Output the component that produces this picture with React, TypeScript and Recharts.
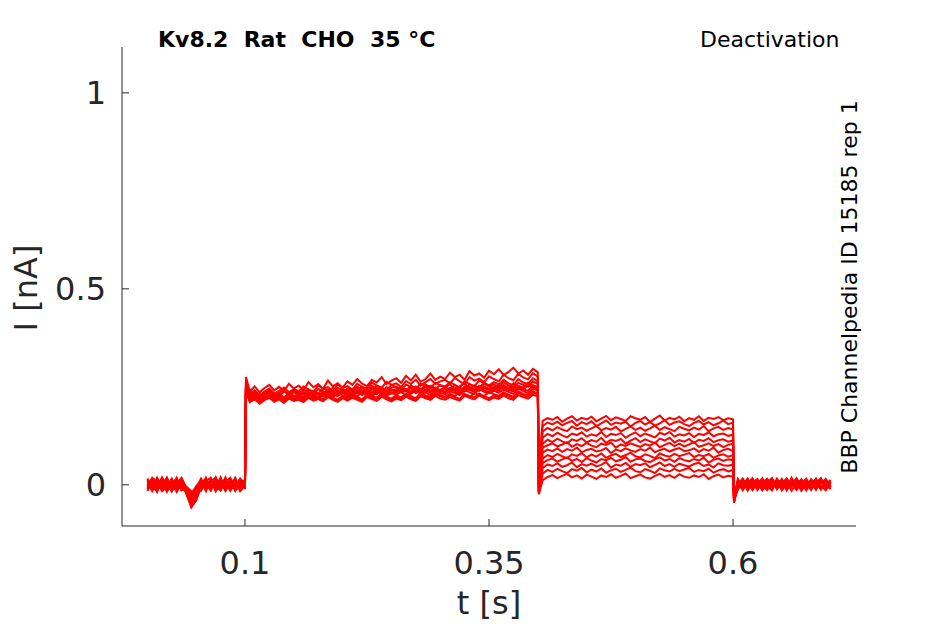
import { LineChart, Line, XAxis, YAxis } from "recharts"

// sample times (ms): holding, activation step, deactivation step, return to holding
const tHold = [0, 5, 10, 15, 20, 25, 30, 35, 40, 45, 50, 55, 60, 65, 70, 75, 80, 85, 90, 95, 100]
const tStep = [
  101,
  105, 110, 115, 120, 125, 130, 135, 140, 145, 150,
  155, 160, 165, 170, 175, 180, 185, 190, 195, 200,
  205, 210, 215, 220, 225, 230, 235, 240, 245, 250,
  255, 260, 265, 270, 275, 280, 285, 290, 295, 300,
  305, 310, 315, 320, 325, 330, 335, 340, 345, 350,
  355, 360, 365, 370, 375, 380, 385, 390, 395, 400,
]
const tTail = [
  401,
  405, 410, 415, 420, 425, 430, 435, 440, 445, 450,
  455, 460, 465, 470, 475, 480, 485, 490, 495, 500,
  505, 510, 515, 520, 525, 530, 535, 540, 545, 550,
  555, 560, 565, 570, 575, 580, 585, 590, 595, 600,
]
const tBack = [601, 605, 610, 615, 620, 625, 630, 635, 640, 645, 650, 655, 660, 665, 670, 675, 680, 685, 690, 695, 700]
const timeMs = [...tHold, ...tStep, ...tTail, ...tBack]

// current traces in pA, one per tail voltage
const trace01 = [
  6, -12, 15, -5, 11, -17, 3, 18, -8, -22, -4, 13, -11, 8, 19, -7, 5, -15, 10, -3, 8,
  275,
  238, 251, 236, 247, 255, 241, 250, 239, 258, 246,
  253, 242, 262, 249, 257, 245, 266, 251, 259, 248,
  264, 255, 270, 258, 252, 268, 261, 275, 257, 266,
  272, 260, 278, 266, 281, 263, 270, 284, 268, 276,
  270, 286, 275, 281, 268, 290, 279, 284, 273, 291,
  282, 295, 280, 288, 299, 284, 292, 281, 296, 287,
  40,
  163, 170, 166, 173, 161, 169, 175, 164, 171, 167,
  174, 162, 169, 176, 165, 172, 168, 163, 175, 170,
  166, 173, 160, 169, 177, 164, 171, 167, 174, 162,
  170, 166, 175, 163, 171, 168, 173, 165, 170, 167,
  -38, 12, -8, 15, -3, 9, -14, 6, 17, -6, 10, -11, 4, 16, -9, 8, -4, 13, -12, 5, 1,
]
const trace02 = [
  -13, 5, -3, 16, -10, 8, -18, 2, -15, -42, -28, 6, 15, -8, 3, -13, 16, -5, 12, -10, 2,
  262,
  232, 241, 229, 238, 246, 233, 240, 248, 236, 244,
  239, 251, 243, 236, 254, 245, 249, 238, 256, 247,
  252, 243, 258, 250, 246, 261, 254, 248, 263, 255,
  259, 250, 265, 257, 268, 253, 262, 270, 258, 264,
  268, 259, 273, 264, 257, 275, 266, 271, 262, 277,
  270, 264, 281, 272, 267, 283, 274, 269, 285, 276,
  30,
  150, 159, 154, 161, 152, 158, 163, 151, 160, 155,
  162, 150, 157, 164, 153, 159, 156, 161, 149, 158,
  163, 154, 160, 151, 157, 165, 153, 159, 162, 155,
  150, 158, 163, 154, 160, 152, 157, 164, 155, 159,
  -42, -6, 14, -10, 8, -2, 16, -13, 5, 11, -7, 15, -4, 9, -15, 3, 12, -8, 6, -3, 10,
]
const trace03 = [
  10, -16, 7, -2, 19, -11, 13, -6, -19, -32, -13, -5, 10, 18, -14, 7, -3, 13, -16, 5, -6,
  258,
  226, 236, 231, 222, 239, 229, 235, 241, 228, 237,
  233, 243, 236, 230, 245, 238, 234, 248, 240, 236,
  246, 239, 251, 242, 237, 253, 245, 249, 240, 255,
  248, 243, 256, 250, 245, 258, 252, 247, 260, 254,
  251, 262, 255, 248, 264, 257, 252, 266, 259, 254,
  262, 256, 268, 259, 254, 270, 261, 257, 272, 264,
  20,
  136, 145, 139, 147, 141, 137, 149, 142, 146, 138,
  144, 150, 139, 145, 141, 148, 136, 143, 149, 140,
  146, 138, 144, 151, 140, 147, 142, 137, 148, 143,
  139, 146, 141, 150, 137, 144, 148, 140, 145, 142,
  -30, 8, -12, 4, 17, -7, 11, -3, -14, 9, 2, -9, 18, -5, 7, -12, 14, 1, -10, 13, -6,
]
const trace04 = [
  -5, 13, -15, 8, -3, 16, -10, 11, -24, -58, -38, -3, 5, -13, 15, -2, -11, 8, -6, 16, 3,
  250,
  229, 237, 225, 234, 241, 231, 226, 238, 233, 242,
  236, 230, 244, 238, 233, 246, 240, 235, 248, 241,
  237, 245, 241, 250, 236, 243, 252, 246, 239, 248,
  251, 244, 240, 253, 247, 242, 256, 249, 245, 254,
  248, 257, 243, 251, 259, 246, 253, 248, 261, 252,
  256, 249, 262, 253, 247, 260, 255, 250, 264, 257,
  10,
  120, 130, 124, 133, 126, 121, 131, 127, 134, 123,
  129, 125, 135, 122, 130, 127, 132, 120, 128, 134,
  124, 131, 126, 121, 133, 128, 135, 123, 129, 126,
  132, 122, 130, 127, 134, 124, 129, 131, 125, 128,
  -45, -3, 10, -15, 6, 13, -8, 2, 15, -11, 7, -4, 12, -13, 3, 16, -7, 9, -2, -14, 8,
]
const trace05 = [
  16, -3, 10, -13, 5, -8, 18, -14, -6, -28, -19, 11, -5, 6, -10, 19, -13, 3, 14, -8, -2,
  248,
  221, 230, 218, 227, 233, 224, 229, 220, 235, 226,
  231, 223, 237, 228, 225, 239, 232, 227, 241, 234,
  229, 238, 233, 243, 230, 236, 245, 239, 232, 241,
  244, 236, 240, 247, 234, 242, 249, 238, 245, 240,
  237, 248, 243, 239, 251, 245, 241, 253, 246, 242,
  250, 244, 255, 247, 242, 252, 248, 257, 245, 251,
  2,
  105, 115, 109, 118, 111, 106, 116, 112, 119, 108,
  114, 110, 120, 107, 115, 112, 117, 105, 113, 119,
  109, 116, 111, 106, 118, 113, 120, 108, 114, 110,
  117, 107, 115, 112, 119, 109, 114, 116, 110, 113,
  -35, 15, -5, 9, -12, 3, 16, -9, 7, -2, 13, -14, 5, 10, -6, 12, -11, 4, 17, -8, -1,
]
const trace06 = [
  -8, 15, 2, -11, 16, -5, -13, 10, -16, -38, -10, 16, -6, 13, -3, -15, 8, 18, -10, 3, 11,
  252,
  224, 232, 221, 229, 236, 226, 233, 223, 230, 237,
  228, 234, 225, 238, 231, 227, 240, 233, 229, 236,
  241, 232, 237, 229, 243, 235, 231, 245, 238, 233,
  236, 244, 239, 234, 246, 237, 242, 235, 248, 240,
  236, 245, 240, 233, 247, 242, 238, 249, 241, 237,
  246, 240, 251, 243, 238, 249, 244, 240, 253, 245,
  -4,
  95, 101, 106, 98, 103, 109, 97, 104, 99, 107,
  100, 96, 105, 102, 108, 95, 103, 99, 106, 101,
  97, 104, 100, 108, 96, 102, 107, 99, 105, 98,
  103, 109, 97, 101, 106, 99, 104, 96, 102, 105,
  -40, 5, -14, 12, 1, -9, 8, 14, -5, 10, -12, 6, -3, 15, -10, 2, 9, -13, 11, -4, 7,
]
const trace07 = [
  3, -14, 18, -6, -13, 10, 5, -10, -13, -20, -25, -8, 18, -11, 6, 13, -16, 5, -3, 15, -10,
  246,
  218, 227, 215, 224, 230, 220, 226, 217, 229, 222,
  226, 219, 231, 224, 221, 233, 227, 223, 235, 228,
  224, 232, 226, 236, 229, 225, 238, 231, 227, 234,
  230, 237, 228, 233, 240, 232, 236, 229, 241, 234,
  231, 238, 235, 229, 242, 236, 232, 244, 237, 233,
  240, 235, 243, 237, 232, 245, 239, 234, 246, 240,
  -10,
  82, 90, 86, 93, 84, 91, 87, 95, 83, 89,
  92, 85, 88, 94, 81, 90, 86, 93, 88, 84,
  91, 87, 95, 83, 89, 92, 85, 90, 94, 86,
  88, 93, 84, 91, 87, 95, 82, 89, 92, 86,
  -33, -10, 6, -4, 13, -13, 4, 10, -8, 16, -2, 8, -15, 5, 12, -6, 3, -9, 14, 0, -11,
]
const trace08 = [
  -16, 8, -6, 19, -2, -15, 11, 3, -18, -48, -31, 5, -13, 10, -17, 3, 15, -8, 18, -13, 6,
  244,
  216, 224, 212, 221, 227, 217, 223, 214, 226, 219,
  223, 216, 228, 220, 225, 218, 230, 222, 217, 227,
  221, 229, 224, 218, 231, 226, 222, 233, 225, 220,
  228, 223, 232, 226, 221, 234, 228, 224, 235, 229,
  225, 232, 227, 236, 230, 224, 234, 229, 226, 237,
  231, 227, 236, 230, 225, 238, 232, 228, 239, 233,
  -14,
  67, 76, 71, 79, 73, 68, 78, 74, 81, 70,
  77, 72, 80, 69, 75, 79, 71, 76, 82, 73,
  70, 78, 74, 68, 80, 75, 72, 79, 73, 77,
  81, 71, 76, 73, 79, 69, 75, 78, 72, 76,
  -46, 9, -2, 16, -9, 7, -13, 3, 12, -5, 15, -10, 8, -1, 11, -14, 6, 13, -7, 10, 4,
]
const trace09 = [
  11, -6, -15, 5, 15, -10, -3, 16, -10, -24, -6, -15, 8, -3, 11, -10, 19, -14, 2, 10, -5,
  253,
  223, 231, 219, 228, 235, 225, 232, 221, 234, 227,
  231, 237, 228, 240, 233, 229, 242, 236, 231, 244,
  238, 234, 245, 239, 236, 247, 241, 237, 249, 243,
  240, 248, 244, 238, 251, 245, 241, 253, 246, 242,
  249, 244, 255, 247, 243, 257, 250, 246, 258, 251,
  247, 255, 250, 245, 259, 252, 248, 261, 254, 249,
  -17,
  56, 63, 67, 59, 65, 70, 61, 66, 58, 68,
  62, 57, 66, 63, 69, 60, 64, 71, 59, 65,
  67, 61, 58, 65, 70, 62, 66, 59, 68, 63,
  60, 66, 62, 69, 57, 64, 67, 61, 65, 63,
  -28, -7, 13, -11, 5, 15, -4, -12, 9, 3, -8, 12, -6, 17, -3, 7, -10, 2, 15, -9, 6,
]
const trace10 = [
  -3, 18, 8, -16, -6, 13, -11, -2, -21, -52, -22, 10, -16, 16, -8, 5, -6, 11, -13, -5, 14,
  240,
  214, 222, 210, 219, 225, 215, 221, 212, 224, 217,
  220, 214, 226, 218, 223, 216, 227, 220, 215, 225,
  219, 226, 221, 216, 228, 223, 218, 230, 222, 217,
  224, 220, 229, 222, 218, 231, 225, 221, 232, 226,
  222, 229, 224, 219, 232, 227, 223, 233, 226, 221,
  228, 224, 233, 227, 222, 235, 229, 225, 236, 230,
  -20,
  43, 52, 48, 55, 46, 50, 57, 45, 53, 49,
  54, 47, 51, 58, 44, 52, 49, 56, 46, 53,
  50, 55, 45, 51, 57, 48, 53, 46, 54, 50,
  47, 53, 56, 48, 52, 44, 55, 50, 49, 52,
  -38, 11, -9, 7, -13, 10, 2, -6, 14, -10, 5, 16, -2, -11, 9, 4, -13, 10, -5, 8, -7,
]
const trace11 = [
  14, -11, 5, 11, -18, 3, 16, -13, -5, -16, -34, -10, 3, -15, 18, -11, 10, -3, 16, -16, -3,
  250,
  220, 229, 217, 226, 232, 222, 228, 219, 231, 225,
  229, 223, 234, 227, 232, 225, 237, 230, 226, 236,
  233, 228, 239, 232, 236, 230, 241, 235, 231, 242,
  236, 242, 238, 233, 245, 239, 235, 247, 240, 237,
  244, 239, 248, 242, 238, 250, 244, 240, 251, 245,
  241, 249, 245, 240, 252, 246, 243, 254, 248, 244,
  -22,
  29, 38, 33, 41, 35, 30, 40, 36, 43, 32,
  39, 34, 42, 31, 37, 41, 33, 38, 44, 35,
  32, 40, 36, 30, 42, 37, 34, 41, 35, 39,
  43, 33, 38, 35, 41, 31, 37, 40, 34, 38,
  -44, 3, 16, -6, 10, -11, 13, -2, -9, 12, -14, 1, 9, -7, 14, -3, 11, -10, 4, 15, -4,
]
const trace12 = [
  -10, 3, -18, 13, 8, -13, -6, 15, -14, -55, -40, 2, -10, 5, -5, 16, -8, 14, -11, 6, 10,
  236,
  211, 219, 207, 216, 222, 212, 218, 209, 220, 214,
  217, 211, 222, 215, 219, 213, 224, 217, 212, 221,
  215, 222, 217, 212, 224, 219, 214, 225, 218, 213,
  220, 216, 225, 218, 214, 226, 221, 217, 227, 220,
  217, 224, 219, 215, 227, 222, 218, 228, 221, 216,
  223, 219, 228, 221, 217, 229, 224, 220, 230, 225,
  -24,
  12, 20, 25, 17, 23, 28, 19, 24, 16, 26,
  21, 15, 24, 20, 27, 18, 23, 29, 17, 22,
  26, 19, 16, 23, 28, 20, 25, 18, 27, 21,
  18, 24, 20, 27, 15, 22, 26, 19, 23, 21,
  -36, -12, 7, 13, -4, 6, -10, 15, -3, 8, 11, -6, 14, -12, 2, 10, -1, 16, -8, 3, 12,
]

const traces = [
  trace01, trace02, trace03, trace04, trace05, trace06,
  trace07, trace08, trace09, trace10, trace11, trace12,
]

const xTicks = [100, 350, 600]
const yTicks = [0, 500, 1000]

const rows = timeMs.map((t, i) => {
  const row: Record<string, number> = { t }
  traces.forEach((tr, k) => {
    row["s" + k] = tr[i]
  })
  return row
})

const font = "DejaVu Sans"
const axisGrey = "#262626"

export default function App() {
  return (
    <div style={{ position: "relative", width: 937, height: 616 }}>
      <LineChart
        width={937}
        height={616}
        data={rows}
        margin={{ top: 39, right: 89, bottom: 38, left: 54 }}
      >
        <XAxis
          dataKey="t"
          type="number"
          domain={[-26, 726]}
          ticks={xTicks}
          tickFormatter={(v) => String(v / 1000)}
          height={60}
          tickSize={-7}
          tickMargin={32}
          stroke={axisGrey}
          tick={{ fill: axisGrey, fontSize: 32, fontFamily: font }}
        />
        <YAxis
          type="number"
          domain={[-105, 1117]}
          ticks={yTicks}
          tickFormatter={(v) => String(v / 1000)}
          width={60}
          tickSize={-7}
          tickMargin={23}
          stroke={axisGrey}
          tick={{ fill: axisGrey, fontSize: 32, fontFamily: font }}
        />
        {traces.map((_, k) => (
          <Line
            key={k}
            dataKey={"s" + k}
            stroke="#ff0000"
            strokeWidth={2}
            dot={false}
            isAnimationActive={false}
          />
        ))}
      </LineChart>
      <svg
        width={937}
        height={616}
        style={{ position: "absolute", left: 0, top: 0, pointerEvents: "none" }}
      >
        <text
          x={150}
          y={39}
          fontFamily={font}
          fontSize={22}
          fontWeight="bold"
          fill="#000"
          style={{ whiteSpace: "pre" }}
        >
          {"Kv8.2  Rat  CHO  35 °C"}
        </text>
        <text x={692} y={39} fontFamily={font} fontSize={22} fill="#000">
          Deactivation
        </text>
        <text
          x={849}
          y={279}
          fontFamily={font}
          fontSize={22}
          fill="#000"
          textAnchor="middle"
          transform="rotate(-90, 849, 279)"
        >
          BBP Channelpedia ID 15185 rep 1
        </text>
        <text x={481} y={606} fontFamily={font} fontSize={32} fill={axisGrey} textAnchor="middle">
          t [s]
        </text>
        <text
          x={29}
          y={280}
          fontFamily={font}
          fontSize={32}
          fill={axisGrey}
          textAnchor="middle"
          transform="rotate(-90, 29, 280)"
        >
          I [nA]
        </text>
      </svg>
    </div>
  )
}
